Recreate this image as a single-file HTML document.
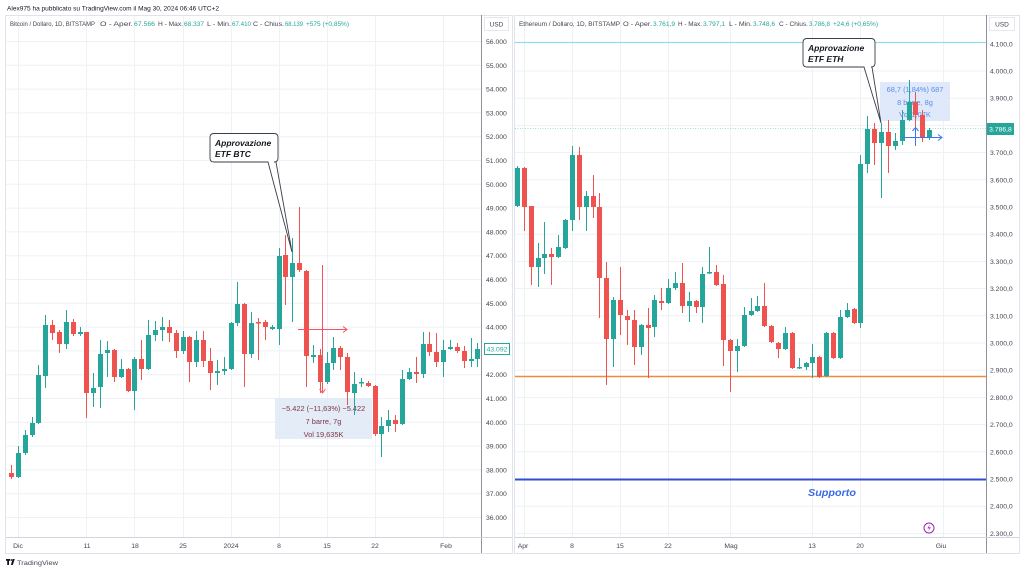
<!DOCTYPE html>
<html><head><meta charset="utf-8"><style>
html,body{margin:0;padding:0;background:#fff;}
svg{display:block;font-family:"Liberation Sans",sans-serif;}
</style></head><body>
<svg width="1024" height="572" viewBox="0 0 1024 572" xmlns="http://www.w3.org/2000/svg">
<rect width="1024" height="572" fill="#fff"/>
<text x="7" y="10.5" font-size="6.5" fill="#131722" textLength="212" lengthAdjust="spacingAndGlyphs">Alex975 ha pubblicato su TradingView.com il Mag 30, 2024 06:46 UTC+2</text>

<!-- pane frames -->
<rect x="5.5" y="15.5" width="507" height="538" fill="none" stroke="#e0e3eb"/>
<rect x="514.5" y="15.5" width="505" height="538" fill="none" stroke="#e0e3eb"/>

<!-- grid left -->
<g stroke="#eef1f6" stroke-width="1">
<line x1="6" x2="481" y1="41.5" y2="41.5"/><line x1="6" x2="481" y1="65.3" y2="65.3"/><line x1="6" x2="481" y1="89.1" y2="89.1"/><line x1="6" x2="481" y1="112.9" y2="112.9"/><line x1="6" x2="481" y1="136.7" y2="136.7"/><line x1="6" x2="481" y1="160.5" y2="160.5"/><line x1="6" x2="481" y1="184.3" y2="184.3"/><line x1="6" x2="481" y1="208.1" y2="208.1"/><line x1="6" x2="481" y1="231.9" y2="231.9"/><line x1="6" x2="481" y1="255.7" y2="255.7"/><line x1="6" x2="481" y1="279.5" y2="279.5"/><line x1="6" x2="481" y1="303.3" y2="303.3"/><line x1="6" x2="481" y1="327.1" y2="327.1"/><line x1="6" x2="481" y1="350.9" y2="350.9"/><line x1="6" x2="481" y1="374.7" y2="374.7"/><line x1="6" x2="481" y1="398.5" y2="398.5"/><line x1="6" x2="481" y1="422.3" y2="422.3"/><line x1="6" x2="481" y1="446.1" y2="446.1"/><line x1="6" x2="481" y1="469.9" y2="469.9"/><line x1="6" x2="481" y1="493.7" y2="493.7"/><line x1="6" x2="481" y1="517.5" y2="517.5"/>
<line x1="18.5" x2="18.5" y1="16" y2="537"/><line x1="86.5" x2="86.5" y1="16" y2="537"/><line x1="134.5" x2="134.5" y1="16" y2="537"/><line x1="183.5" x2="183.5" y1="16" y2="537"/><line x1="231.5" x2="231.5" y1="16" y2="537"/><line x1="279.5" x2="279.5" y1="16" y2="537"/><line x1="327.5" x2="327.5" y1="16" y2="537"/><line x1="375.5" x2="375.5" y1="16" y2="537"/><line x1="443.5" x2="443.5" y1="16" y2="537"/>
</g>
<!-- grid right -->
<g stroke="#eef1f6" stroke-width="1">
<line x1="515" x2="986" y1="71" y2="71"/><line x1="515" x2="986" y1="98.2" y2="98.2"/><line x1="515" x2="986" y1="125.4" y2="125.4"/><line x1="515" x2="986" y1="152.6" y2="152.6"/><line x1="515" x2="986" y1="179.8" y2="179.8"/><line x1="515" x2="986" y1="207" y2="207"/><line x1="515" x2="986" y1="234.2" y2="234.2"/><line x1="515" x2="986" y1="261.4" y2="261.4"/><line x1="515" x2="986" y1="288.6" y2="288.6"/><line x1="515" x2="986" y1="315.8" y2="315.8"/><line x1="515" x2="986" y1="343" y2="343"/><line x1="515" x2="986" y1="370.2" y2="370.2"/><line x1="515" x2="986" y1="397.4" y2="397.4"/><line x1="515" x2="986" y1="424.6" y2="424.6"/><line x1="515" x2="986" y1="451.8" y2="451.8"/><line x1="515" x2="986" y1="506.2" y2="506.2"/><line x1="515" x2="986" y1="533.4" y2="533.4"/>
<line x1="524.5" x2="524.5" y1="16" y2="537"/><line x1="572.5" x2="572.5" y1="16" y2="537"/><line x1="620.5" x2="620.5" y1="16" y2="537"/><line x1="668.5" x2="668.5" y1="16" y2="537"/><line x1="730.5" x2="730.5" y1="16" y2="537"/><line x1="812.5" x2="812.5" y1="16" y2="537"/><line x1="860.5" x2="860.5" y1="16" y2="537"/><line x1="943.5" x2="943.5" y1="16" y2="537"/>
</g>

<!-- ETH horizontal drawings -->
<line x1="515" x2="986" y1="42.5" y2="42.5" stroke="#8fe0ea" stroke-width="1.2"/>
<line x1="515" x2="986" y1="128.5" y2="128.5" stroke="#a6ddd7" stroke-width="1" stroke-dasharray="1,1.5"/>
<line x1="515" x2="986" y1="376.5" y2="376.5" stroke="#f08a3c" stroke-width="1.5"/>
<line x1="515" x2="986" y1="479.5" y2="479.5" stroke="#2f4fd0" stroke-width="2"/>
<text x="808" y="496" font-size="10.5" font-style="italic" font-weight="bold" fill="#3b6ae8" textLength="48" lengthAdjust="spacingAndGlyphs">Supporto</text>

<!-- measure boxes (behind candles) -->
<rect x="275" y="398" width="97" height="41" fill="#dfe9f6" opacity="0.85"/>
<text x="323.5" y="411" font-size="7.4" fill="#7d3545" text-anchor="middle">−5.422 (−11,63%) −5.422</text>
<text x="323.5" y="424" font-size="7.4" fill="#7d3545" text-anchor="middle">7 barre, 7g</text>
<text x="323.5" y="437" font-size="7.4" fill="#7d3545" text-anchor="middle">Vol 19,635K</text>
<rect x="880" y="82" width="70" height="39" fill="#dbe7f8" opacity="0.9"/>
<text x="915" y="92" font-size="7.4" fill="#5a8cf0" text-anchor="middle">68,7 (1,84%) 687</text>
<text x="915" y="105" font-size="7.4" fill="#5a8cf0" text-anchor="middle">8 barre, 8g</text>
<text x="915" y="117" font-size="7.4" fill="#5a8cf0" text-anchor="middle">Vol 1,07K</text>

<!-- BTC candles green -->
<g fill="#26a69a">
<rect x="18" y="446" width="1" height="32"/><rect x="16" y="453" width="5" height="24"/>
<rect x="25" y="430" width="1" height="25"/><rect x="23" y="435" width="5" height="18"/>
<rect x="32" y="417" width="1" height="20"/><rect x="30" y="423" width="5" height="12"/>
<rect x="38" y="365" width="1" height="59"/><rect x="36" y="375" width="5" height="48"/>
<rect x="45" y="315" width="1" height="73"/><rect x="43" y="325" width="5" height="51"/>
<rect x="66" y="310" width="1" height="39"/><rect x="64" y="322" width="5" height="22"/>
<rect x="80" y="327" width="1" height="9"/><rect x="78" y="332" width="5" height="2"/>
<rect x="93" y="373" width="1" height="34"/><rect x="91" y="388" width="5" height="5"/>
<rect x="100" y="340" width="1" height="68"/><rect x="98" y="354" width="5" height="33"/>
<rect x="107" y="341" width="1" height="36"/><rect x="105" y="350" width="5" height="3"/>
<rect x="121" y="359" width="1" height="19"/><rect x="119" y="369" width="5" height="8"/>
<rect x="134" y="357" width="1" height="53"/><rect x="132" y="359" width="5" height="32"/>
<rect x="148" y="320" width="1" height="50"/><rect x="146" y="335" width="5" height="34"/>
<rect x="155" y="321" width="1" height="20"/><rect x="153" y="330" width="5" height="5"/>
<rect x="162" y="317" width="1" height="24"/><rect x="160" y="327" width="5" height="3"/>
<rect x="183" y="331" width="1" height="23"/><rect x="181" y="337" width="5" height="14"/>
<rect x="196" y="331" width="1" height="36"/><rect x="194" y="340" width="5" height="22"/>
<rect x="217" y="360" width="1" height="25"/><rect x="215" y="371" width="5" height="2"/>
<rect x="224" y="357" width="1" height="18"/><rect x="222" y="369" width="5" height="2"/>
<rect x="231" y="322" width="1" height="48"/><rect x="229" y="323" width="5" height="46"/>
<rect x="237" y="282" width="1" height="44"/><rect x="235" y="304" width="5" height="19"/>
<rect x="251" y="312" width="1" height="46"/><rect x="249" y="323" width="5" height="31"/>
<rect x="272" y="325" width="1" height="5"/><rect x="270" y="327" width="5" height="2"/>
<rect x="279" y="248" width="1" height="97"/><rect x="277" y="256" width="5" height="73"/>
<rect x="292" y="238" width="1" height="84"/><rect x="290" y="263" width="5" height="14"/>
<rect x="313" y="345" width="1" height="18"/><rect x="311" y="355" width="5" height="2"/>
<rect x="327" y="352" width="1" height="32"/><rect x="325" y="363" width="5" height="19"/>
<rect x="333" y="337" width="1" height="33"/><rect x="331" y="348" width="5" height="15"/>
<rect x="354" y="372" width="1" height="43"/><rect x="352" y="384" width="5" height="9"/>
<rect x="361" y="378" width="1" height="9"/><rect x="359" y="382" width="5" height="1.5"/>
<rect x="381" y="417" width="1" height="40"/><rect x="379" y="426" width="5" height="8"/>
<rect x="388" y="410" width="1" height="22"/><rect x="386" y="420" width="5" height="6"/>
<rect x="402" y="370" width="1" height="55"/><rect x="400" y="379" width="5" height="45"/>
<rect x="409" y="368" width="1" height="12"/><rect x="407" y="372" width="5" height="7"/>
<rect x="423" y="332" width="1" height="46"/><rect x="421" y="344" width="5" height="30"/>
<rect x="443" y="340" width="1" height="37"/><rect x="441" y="350" width="5" height="12"/>
<rect x="450" y="340" width="1" height="10"/><rect x="448" y="347" width="5" height="2"/>
<rect x="471" y="338" width="1" height="29"/><rect x="469" y="359" width="5" height="2"/>
<rect x="477" y="343" width="1" height="24"/><rect x="475" y="349" width="5" height="10"/>
</g>
<!-- BTC candles red -->
<g fill="#ef5350">
<rect x="11" y="465" width="1" height="14"/><rect x="9" y="473" width="5" height="4"/>
<rect x="52" y="320" width="1" height="20"/><rect x="50" y="325" width="5" height="8"/>
<rect x="59" y="330" width="1" height="23"/><rect x="57" y="332" width="5" height="12"/>
<rect x="73" y="319" width="1" height="17"/><rect x="71" y="322" width="5" height="12"/>
<rect x="86" y="332" width="1" height="86"/><rect x="84" y="332" width="5" height="61"/>
<rect x="114" y="349" width="1" height="33"/><rect x="112" y="350" width="5" height="27"/>
<rect x="128" y="368" width="1" height="24"/><rect x="126" y="369" width="5" height="22"/>
<rect x="141" y="340" width="1" height="40"/><rect x="139" y="359" width="5" height="10"/>
<rect x="169" y="320" width="1" height="22"/><rect x="167" y="327" width="5" height="6"/>
<rect x="176" y="330" width="1" height="28"/><rect x="174" y="333" width="5" height="18"/>
<rect x="189" y="336" width="1" height="46"/><rect x="187" y="337" width="5" height="25"/>
<rect x="203" y="331" width="1" height="36"/><rect x="201" y="340" width="5" height="21"/>
<rect x="210" y="348" width="1" height="42"/><rect x="208" y="361" width="5" height="12"/>
<rect x="244" y="303" width="1" height="84"/><rect x="242" y="304" width="5" height="50"/>
<rect x="258" y="318" width="1" height="42"/><rect x="256" y="322" width="5" height="1.5"/>
<rect x="265" y="320" width="1" height="20"/><rect x="263" y="322" width="5" height="5"/>
<rect x="285" y="235" width="1" height="70"/><rect x="283" y="255" width="5" height="22"/>
<rect x="299" y="207" width="1" height="65"/><rect x="297" y="263" width="5" height="7"/>
<rect x="306" y="270" width="1" height="117"/><rect x="304" y="271" width="5" height="85"/>
<rect x="320" y="349" width="1" height="44"/><rect x="318" y="355" width="5" height="27"/>
<rect x="340" y="346" width="1" height="24"/><rect x="338" y="348" width="5" height="9"/>
<rect x="347" y="353" width="1" height="52"/><rect x="345" y="357" width="5" height="35"/>
<rect x="368" y="381" width="1" height="6"/><rect x="366" y="383" width="5" height="3"/>
<rect x="375" y="385" width="1" height="51"/><rect x="373" y="386" width="5" height="48"/>
<rect x="395" y="415" width="1" height="17"/><rect x="393" y="420" width="5" height="4"/>
<rect x="416" y="357" width="1" height="26"/><rect x="414" y="372" width="5" height="2"/>
<rect x="429" y="332" width="1" height="24"/><rect x="427" y="344" width="5" height="8"/>
<rect x="436" y="333" width="1" height="34"/><rect x="434" y="352" width="5" height="10"/>
<rect x="457" y="343" width="1" height="10"/><rect x="455" y="347" width="5" height="4"/>
<rect x="464" y="346" width="1" height="22"/><rect x="462" y="351" width="5" height="10"/>
</g>

<!-- ETH candles green -->
<g fill="#26a69a">
<rect x="517" y="166" width="1" height="41"/><rect x="515" y="168" width="5" height="38"/>
<rect x="538" y="243" width="1" height="44"/><rect x="536" y="258" width="5" height="9"/>
<rect x="544" y="222" width="1" height="52"/><rect x="542" y="254" width="5" height="4"/>
<rect x="558" y="235" width="1" height="23"/><rect x="556" y="247" width="5" height="10"/>
<rect x="565" y="219" width="1" height="30"/><rect x="563" y="220" width="5" height="28"/>
<rect x="572" y="146" width="1" height="85"/><rect x="570" y="155" width="5" height="65"/>
<rect x="586" y="191" width="1" height="40"/><rect x="584" y="196" width="5" height="11"/>
<rect x="613" y="297" width="1" height="70"/><rect x="611" y="300" width="5" height="39"/>
<rect x="641" y="324" width="1" height="31"/><rect x="639" y="325" width="5" height="22"/>
<rect x="654" y="295" width="1" height="42"/><rect x="652" y="300" width="5" height="27"/>
<rect x="668" y="279" width="1" height="25"/><rect x="666" y="288" width="5" height="15"/>
<rect x="675" y="272" width="1" height="18"/><rect x="673" y="283" width="5" height="5"/>
<rect x="689" y="292" width="1" height="30"/><rect x="687" y="301" width="5" height="5"/>
<rect x="702" y="267" width="1" height="56"/><rect x="700" y="274" width="5" height="33"/>
<rect x="709" y="247" width="1" height="27"/><rect x="707" y="272" width="5" height="1.5"/>
<rect x="737" y="339" width="1" height="33"/><rect x="735" y="346" width="5" height="5"/>
<rect x="744" y="307" width="1" height="40"/><rect x="742" y="315" width="5" height="31"/>
<rect x="751" y="298" width="1" height="18"/><rect x="749" y="311" width="5" height="4"/>
<rect x="757" y="296" width="1" height="16"/><rect x="755" y="306" width="5" height="5"/>
<rect x="785" y="327" width="1" height="23"/><rect x="783" y="333" width="5" height="16"/>
<rect x="799" y="358" width="1" height="11"/><rect x="797" y="367" width="5" height="1.5"/>
<rect x="806" y="362" width="1" height="8"/><rect x="804" y="363" width="5" height="4"/>
<rect x="812" y="344" width="1" height="34"/><rect x="810" y="357" width="5" height="6"/>
<rect x="826" y="332" width="1" height="45"/><rect x="824" y="333" width="5" height="43"/>
<rect x="840" y="310" width="1" height="49"/><rect x="838" y="317" width="5" height="41"/>
<rect x="847" y="303" width="1" height="15"/><rect x="845" y="310" width="5" height="7"/>
<rect x="860" y="155" width="1" height="173"/><rect x="858" y="164" width="5" height="159"/>
<rect x="867" y="116" width="1" height="57"/><rect x="865" y="129" width="5" height="35"/>
<rect x="881" y="123" width="1" height="75"/><rect x="879" y="132" width="5" height="11"/>
<rect x="895" y="133" width="1" height="17"/><rect x="893" y="141" width="5" height="5"/>
<rect x="902" y="110" width="1" height="35"/><rect x="900" y="120" width="5" height="21"/>
<rect x="909" y="80" width="1" height="41"/><rect x="907" y="102" width="5" height="18"/>
<rect x="929" y="128" width="1" height="12"/><rect x="927" y="130" width="5" height="7"/>
</g>
<!-- ETH candles red -->
<g fill="#ef5350">
<rect x="524" y="167" width="1" height="64"/><rect x="522" y="168" width="5" height="39"/>
<rect x="531" y="206" width="1" height="79"/><rect x="529" y="206" width="5" height="61"/>
<rect x="551" y="248" width="1" height="37"/><rect x="549" y="254" width="5" height="3"/>
<rect x="579" y="147" width="1" height="73"/><rect x="577" y="155" width="5" height="52"/>
<rect x="593" y="175" width="1" height="43"/><rect x="591" y="196" width="5" height="11"/>
<rect x="599" y="193" width="1" height="125"/><rect x="597" y="207" width="5" height="71"/>
<rect x="606" y="262" width="1" height="123"/><rect x="604" y="278" width="5" height="61"/>
<rect x="620" y="267" width="1" height="68"/><rect x="618" y="300" width="5" height="15"/>
<rect x="627" y="310" width="1" height="35"/><rect x="625" y="316" width="5" height="4"/>
<rect x="634" y="310" width="1" height="55"/><rect x="632" y="320" width="5" height="27"/>
<rect x="648" y="308" width="1" height="70"/><rect x="646" y="325" width="5" height="3"/>
<rect x="661" y="288" width="1" height="22"/><rect x="659" y="301" width="5" height="2"/>
<rect x="682" y="263" width="1" height="50"/><rect x="680" y="283" width="5" height="23"/>
<rect x="696" y="300" width="1" height="13"/><rect x="694" y="301" width="5" height="6"/>
<rect x="716" y="265" width="1" height="21"/><rect x="714" y="272" width="5" height="13"/>
<rect x="723" y="275" width="1" height="91"/><rect x="721" y="284" width="5" height="56"/>
<rect x="730" y="339" width="1" height="53"/><rect x="728" y="340" width="5" height="11"/>
<rect x="764" y="283" width="1" height="44"/><rect x="762" y="306" width="5" height="20"/>
<rect x="771" y="325" width="1" height="18"/><rect x="769" y="326" width="5" height="16"/>
<rect x="778" y="342" width="1" height="16"/><rect x="776" y="343" width="5" height="6"/>
<rect x="792" y="332" width="1" height="37"/><rect x="790" y="333" width="5" height="35"/>
<rect x="819" y="356" width="1" height="22"/><rect x="817" y="357" width="5" height="20"/>
<rect x="833" y="332" width="1" height="27"/><rect x="831" y="333" width="5" height="25"/>
<rect x="854" y="308" width="1" height="16"/><rect x="852" y="309" width="5" height="14"/>
<rect x="874" y="123" width="1" height="42"/><rect x="872" y="129" width="5" height="14"/>
<rect x="888" y="120" width="1" height="53"/><rect x="886" y="132" width="5" height="14"/>
<rect x="915" y="92" width="1" height="54"/><rect x="913" y="102" width="5" height="13"/>
<rect x="922" y="110" width="1" height="32"/><rect x="920" y="115" width="5" height="22"/>
</g>

<!-- BTC range arrows -->
<g stroke="#f7525f" stroke-width="1" fill="none">
<line x1="298" y1="329.5" x2="347" y2="329.5"/>
<polyline points="343,326.5 347,329.5 343,332.5"/>
<line x1="322.5" y1="265" x2="322.5" y2="393"/>
<polyline points="319.5,389 322.5,393 325.5,389"/>
</g>
<!-- ETH range arrows -->
<g stroke="#3d73ee" stroke-width="1" fill="none">
<line x1="903" y1="137.5" x2="942" y2="137.5"/>
<polyline points="938,134.5 942,137.5 938,140.5"/>
<line x1="915.5" y1="128" x2="915.5" y2="145"/>
<polyline points="912.5,131 915.5,127.5 918.5,131"/>
</g>

<!-- callouts -->
<path d="M214,133.5 H274 Q278,133.5 278,137.5 V158 Q278,162 274,162 H276 L292,252 L268,162 H214 Q210,162 210,158 V137.5 Q210,133.5 214,133.5 Z" fill="#fff" stroke="#3a3e48" stroke-width="0.9"/>
<text x="215" y="146" font-size="8.5" font-style="italic" font-weight="bold" fill="#131722">Approvazione</text>
<text x="215" y="157" font-size="8.5" font-style="italic" font-weight="bold" fill="#131722">ETF BTC</text>
<path d="M807,38.5 H871 Q875,38.5 875,42.5 V63 Q875,67 871,67 H872 L881,123 L864,67 H807 Q803,67 803,63 V42.5 Q803,38.5 807,38.5 Z" fill="#fff" stroke="#3a3e48" stroke-width="0.9"/>
<text x="808" y="51" font-size="8.5" font-style="italic" font-weight="bold" fill="#131722">Approvazione</text>
<text x="808" y="62" font-size="8.5" font-style="italic" font-weight="bold" fill="#131722">ETF ETH</text>

<!-- purple icon -->
<circle cx="929" cy="528" r="5" fill="#fff" stroke="#9c27b0" stroke-width="1"/>
<path d="M930,524.5 L927.3,528.4 H929.5 L928,531.5 L930.9,527.4 H928.8 Z" fill="#9c27b0"/>

<!-- axes separators -->
<line x1="481.5" y1="15" x2="481.5" y2="553" stroke="#8f929b"/>
<line x1="986.5" y1="15" x2="986.5" y2="553" stroke="#8f929b"/>
<line x1="6" y1="537.5" x2="512" y2="537.5" stroke="#d1d4dc"/>
<line x1="515" y1="537.5" x2="1019" y2="537.5" stroke="#d1d4dc"/>

<!-- headers -->
<g font-size="6.4" fill="#434651">
<text x="10" y="26" textLength="85" lengthAdjust="spacingAndGlyphs">Bitcoin / Dollaro, 1D, BITSTAMP</text>
<text x="100" y="26" textLength="33" lengthAdjust="spacingAndGlyphs">O - Aper.</text>
<text x="134" y="26" fill="#26a69a" textLength="21" lengthAdjust="spacingAndGlyphs">67.566</text>
<text x="158" y="26" textLength="25" lengthAdjust="spacingAndGlyphs">H - Max.</text>
<text x="184" y="26" fill="#26a69a" textLength="20" lengthAdjust="spacingAndGlyphs">68.337</text>
<text x="207" y="26" textLength="24" lengthAdjust="spacingAndGlyphs">L - Min.</text>
<text x="232" y="26" fill="#26a69a" textLength="19" lengthAdjust="spacingAndGlyphs">67.410</text>
<text x="253" y="26" textLength="31" lengthAdjust="spacingAndGlyphs">C - Chius.</text>
<text x="285" y="26" fill="#26a69a" textLength="18" lengthAdjust="spacingAndGlyphs">68.139</text>
<text x="306" y="26" fill="#26a69a" textLength="43" lengthAdjust="spacingAndGlyphs">+575 (+0,85%)</text>

<text x="519" y="26" textLength="101" lengthAdjust="spacingAndGlyphs">Ethereum / Dollaro, 1D, BITSTAMP</text>
<text x="623" y="26" textLength="29" lengthAdjust="spacingAndGlyphs">O - Aper.</text>
<text x="653" y="26" fill="#26a69a" textLength="22" lengthAdjust="spacingAndGlyphs">3.761,9</text>
<text x="678" y="26" textLength="24" lengthAdjust="spacingAndGlyphs">H - Max.</text>
<text x="703" y="26" fill="#26a69a" textLength="22" lengthAdjust="spacingAndGlyphs">3.797,1</text>
<text x="729" y="26" textLength="23" lengthAdjust="spacingAndGlyphs">L - Min.</text>
<text x="753" y="26" fill="#26a69a" textLength="22" lengthAdjust="spacingAndGlyphs">3.748,6</text>
<text x="779" y="26" textLength="29" lengthAdjust="spacingAndGlyphs">C - Chius.</text>
<text x="809" y="26" fill="#26a69a" textLength="21" lengthAdjust="spacingAndGlyphs">3.786,8</text>
<text x="833" y="26" fill="#26a69a" textLength="45" lengthAdjust="spacingAndGlyphs">+24,6 (+0,65%)</text>
</g>

<!-- USD boxes -->
<rect x="484.5" y="17.5" width="24" height="13" fill="#fff" stroke="#e6e8ee"/>
<text x="496.5" y="26.5" font-size="6.5" fill="#434651" text-anchor="middle">USD</text>
<rect x="989.5" y="17.5" width="25" height="13" fill="#fff" stroke="#e6e8ee"/>
<text x="1002" y="26.5" font-size="6.5" fill="#434651" text-anchor="middle">USD</text>

<!-- left price labels -->
<g font-size="6.8" fill="#434651">
<text x="486" y="44">56.000</text><text x="486" y="67.8">55.000</text><text x="486" y="91.6">54.000</text><text x="486" y="115.4">53.000</text><text x="486" y="139.2">52.000</text><text x="486" y="163">51.000</text><text x="486" y="186.8">50.000</text><text x="486" y="210.6">49.000</text><text x="486" y="234.4">48.000</text><text x="486" y="258.2">47.000</text><text x="486" y="282">46.000</text><text x="486" y="305.8">45.000</text><text x="486" y="329.6">44.000</text><text x="486" y="377.2">42.000</text><text x="486" y="401">41.000</text><text x="486" y="424.8">40.000</text><text x="486" y="448.6">39.000</text><text x="486" y="472.4">38.000</text><text x="486" y="496.2">37.000</text><text x="486" y="520">36.000</text>
</g>
<rect x="484.5" y="343.5" width="25" height="11" fill="#fff" stroke="#26a69a"/>
<text x="497" y="351.5" font-size="6.8" fill="#26a69a" text-anchor="middle">43.092</text>

<!-- right price labels -->
<g font-size="6.8" fill="#434651">
<text x="990" y="46.3">4.100,0</text><text x="990" y="73.5">4.000,0</text><text x="990" y="100.7">3.900,0</text><text x="990" y="155.1">3.700,0</text><text x="990" y="182.3">3.600,0</text><text x="990" y="209.5">3.500,0</text><text x="990" y="236.7">3.400,0</text><text x="990" y="263.9">3.300,0</text><text x="990" y="291.1">3.200,0</text><text x="990" y="318.3">3.100,0</text><text x="990" y="345.5">3.000,0</text><text x="990" y="372.7">2.900,0</text><text x="990" y="399.9">2.800,0</text><text x="990" y="427.1">2.700,0</text><text x="990" y="454.3">2.600,0</text><text x="990" y="481.5">2.500,0</text><text x="990" y="508.7">2.400,0</text><text x="990" y="535.9">2.300,0</text>
</g>
<rect x="987" y="123" width="27" height="12" fill="#26a69a"/>
<text x="1000.5" y="131.5" font-size="6.8" fill="#fff" text-anchor="middle">3.786,8</text>

<!-- date labels -->
<g font-size="6.8" fill="#434651" text-anchor="middle">
<text x="18" y="548">Dic</text><text x="87" y="548">11</text><text x="135" y="548">18</text><text x="183" y="548">25</text><text x="231" y="548">2024</text><text x="279" y="548">8</text><text x="327" y="548">15</text><text x="375" y="548">22</text><text x="446" y="548">Feb</text>
<text x="523" y="548">Apr</text><text x="572" y="548">8</text><text x="620" y="548">15</text><text x="668" y="548">22</text><text x="731" y="548">Mag</text><text x="812" y="548">13</text><text x="860" y="548">20</text><text x="941" y="548">Giu</text>
</g>

<!-- footer logo -->
<g fill="#131722">
<rect x="6" y="559" width="4" height="1.8"/><rect x="7.2" y="559" width="1.8" height="6"/>
<circle cx="11.3" cy="560" r="0.9"/>
<path d="M12.6,559 H14.8 L12.8,565 H10.9 Z"/>
</g>
<text x="17" y="565" font-size="6.8" fill="#434651" textLength="41" lengthAdjust="spacingAndGlyphs">TradingView</text>
</svg>
</body></html>
